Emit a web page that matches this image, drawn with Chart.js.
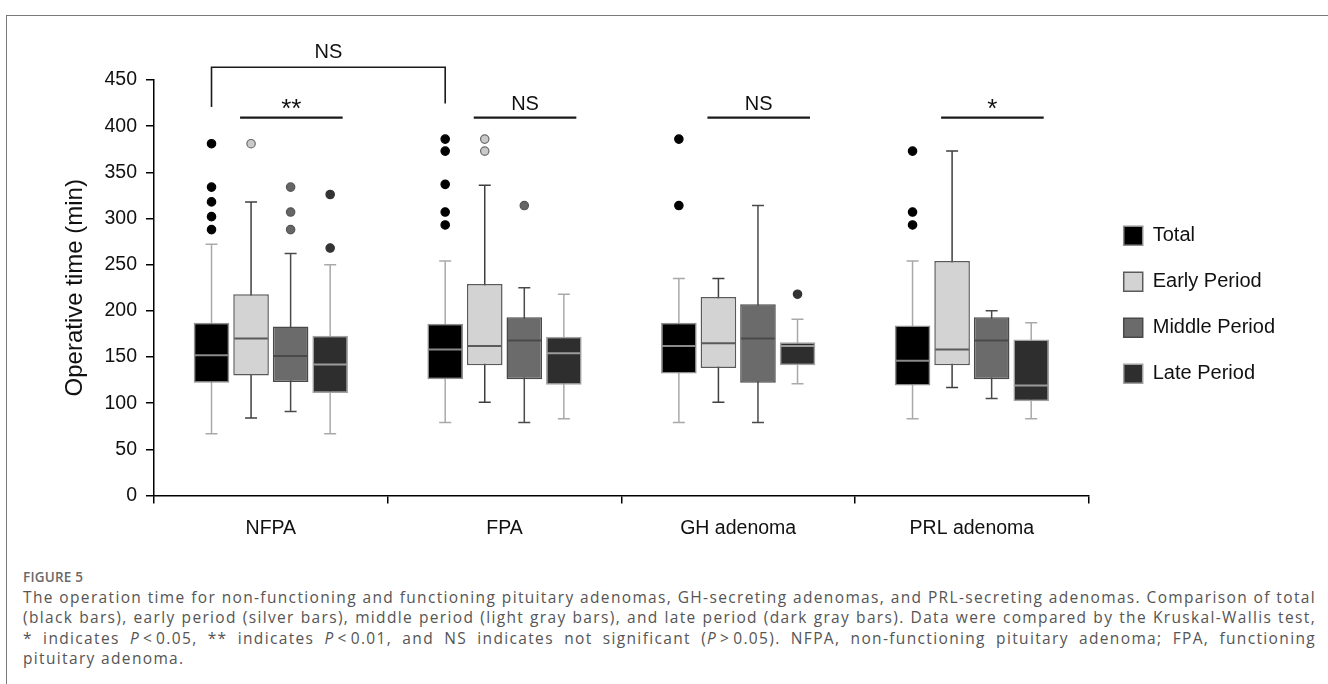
<!DOCTYPE html>
<html>
<head>
<meta charset="utf-8">
<script src="https://cdn.jsdelivr.net/npm/chart.js@4.4.1/dist/chart.umd.min.js"></script>
<style>
  html, body { margin: 0; padding: 0; background: #fff; }
  body { width: 1328px; height: 684px; position: relative; overflow: hidden; font-family: 'Open Sans', 'Noto Sans', sans-serif; }
  .marco { position: absolute; left: 6px; top: 15px; width: 1330px; height: 680px; border-top: 1.5px solid #7a7a7a; border-left: 1.5px solid #7a7a7a; }
  .lienzo { position: absolute; left: 0; top: 0; }
  .pie { position: absolute; left: 23px; top: 567px; width: 1293px; color: #555; }
  .pie__num { font-size: 13.5px; font-weight: 600; color: #6a6a6a; line-height: 20px; letter-spacing: 0.2px; }
  .pie__linea { font-size: 15.5px; line-height: 20.3px; white-space: nowrap; }
  .pie__linea--just { text-align: justify; text-align-last: justify; }
</style>
</head>
<body>
<div class="marco"></div>
<canvas class="lienzo" id="grafico" width="1328" height="550"></canvas>
<div class="pie">
  <div class="pie__num">FIGURE 5</div>
  <div class="pie__linea"><span>The operation time for non-functioning and functioning pituitary adenomas, GH-secreting adenomas, and PRL-secreting adenomas. Comparison of total</span></div>
  <div class="pie__linea"><span>(black bars), early period (silver bars), middle period (light gray bars), and late period (dark gray bars). Data were compared by the Kruskal-Wallis test,</span></div>
  <div class="pie__linea"><span>* indicates <i>P</i>&#8202;&lt;&#8202;0.05, ** indicates <i>P</i>&#8202;&lt;&#8202;0.01, and NS indicates not significant (<i>P</i>&#8202;&gt;&#8202;0.05). NFPA, non-functioning pituitary adenoma; FPA, functioning</span></div>
  <div class="pie__linea pie__linea--fin"><span>pituitary adenoma.</span></div>
</div>
<script>
// categorías y series
const grupos   = ['NFPA', 'FPA', 'GH adenoma', 'PRL adenoma'];
const periodos = ['Total', 'Early Period', 'Middle Period', 'Late Period'];
const yMax = 450;
const yPaso = 50;

// cada caja: [mín bigote, Q1, mediana, Q3, máx bigote], un valor por grupo
const cajaTotal  = [[67, 122, 152, 187, 272], [79, 126, 158, 186, 254], [79, 132, 162, 187, 235], [83, 119, 146, 184, 254]];
const cajaEarly  = [[84, 130, 170, 218, 318], [101, 141, 162, 229, 336], [101, 138, 165, 215, 235], [117, 141, 158, 254, 373]];
const cajaMiddle = [[91, 123, 151, 183, 262], [79, 126, 168, 193, 225], [79, 122, 170, 207, 314], [105, 126, 168, 193, 200]];
const cajaLate   = [[67, 111, 142, 173, 250], [83, 120, 154, 172, 218], [121, 141, 162, 166, 191], [83, 102, 119, 169, 187]];

// valores atípicos por grupo
const atipTotal  = [[381, 334, 318, 302, 288], [386, 373, 337, 307, 293], [386, 314], [373, 307, 293]];
const atipEarly  = [[381], [386, 373], [], []];
const atipMiddle = [[334, 307, 288], [314], [], []];
const atipLate   = [[326, 268], [], [218], []];

// significancia dentro de cada grupo (Early vs Middle vs Late) y entre NFPA y FPA (Total)
const signifGrupo = ['**', 'NS', 'NS', '*'];
const signifEntre = 'NS';

const cajas    = [cajaTotal, cajaEarly, cajaMiddle, cajaLate];
const atipicos = [atipTotal, atipEarly, atipMiddle, atipLate];

const estilos = [
  { fondo: '#000000', borde: '#8e8e8e', bigote: '#a9a9a9', mediana: '#8a8a8a', punto: '#000000', puntoBorde: '#000000' },
  { fondo: '#d3d3d3', borde: '#5a5a5a', bigote: '#3f3f3f', mediana: '#5a5a5a', punto: '#c9c9c9', puntoBorde: '#6a6a6a' },
  { fondo: '#6b6b6b', borde: '#494949', bigote: '#4a4a4a', mediana: '#4a4a4a', punto: '#666666', puntoBorde: '#555555' },
  { fondo: '#2e2e2e', borde: '#a2a2a2', bigote: '#a9a9a9', mediana: '#9c9c9c', punto: '#333333', puntoBorde: '#333333' },
];

// pie de figura: espaciado común de letras para que la línea más larga llene el ancho
(function ajustarPie() {
  const lineas = [...document.querySelectorAll('.pie__linea:not(.pie__linea--fin)')];
  const ancho = 1290;
  let esp = Infinity;
  lineas.forEach(l => {
    const s = l.querySelector('span');
    const w = s.getBoundingClientRect().width;
    esp = Math.min(esp, (ancho - w) / s.textContent.length);
  });
  esp = Math.max(0, esp);
  document.querySelectorAll('.pie__linea').forEach(l => { l.style.letterSpacing = esp + 'px'; });
  lineas.forEach(l => l.classList.add('pie__linea--just'));
})();

const FUENTE = "'Liberation Sans', Arial, sans-serif";
Chart.defaults.font.family = FUENTE;
Chart.defaults.color = '#111';

// bigotes, medianas, atípicos y marcas de significancia
const dibujoCajas = {
  id: 'dibujoCajas',
  afterLayout(chart) {
    // la leyenda queda separada del área del gráfico
    const l = chart.legend;
    l.left += 9; l.right += 9;
    l.top -= 4; l.bottom -= 4;
  },
  beforeDatasetsDraw(chart) {
    const { ctx, scales: { y } } = chart;
    cajas.forEach((caja, i) => {
      const meta = chart.getDatasetMeta(i);
      ctx.save();
      ctx.strokeStyle = estilos[i].bigote;
      ctx.lineWidth = 1.5;
      meta.data.forEach((barra, j) => {
        const yMin = y.getPixelForValue(caja[j][0]);
        const yTop = y.getPixelForValue(caja[j][4]);
        ctx.beginPath();
        ctx.moveTo(barra.x, yMin); ctx.lineTo(barra.x, yTop);
        ctx.moveTo(barra.x - 6, yMin); ctx.lineTo(barra.x + 6, yMin);
        ctx.moveTo(barra.x - 6, yTop); ctx.lineTo(barra.x + 6, yTop);
        ctx.stroke();
      });
      ctx.restore();
    });
  },
  afterDatasetsDraw(chart) {
    const { ctx, chartArea, scales: { y } } = chart;
    cajas.forEach((caja, i) => {
      const meta = chart.getDatasetMeta(i);
      const est = estilos[i];
      ctx.save();
      meta.data.forEach((barra, j) => {
        const yMed = y.getPixelForValue(caja[j][2]);
        const m = barra.width / 2 - 1;
        ctx.strokeStyle = est.mediana;
        ctx.lineWidth = 2;
        ctx.beginPath();
        ctx.moveTo(barra.x - m, yMed); ctx.lineTo(barra.x + m, yMed);
        ctx.stroke();

        atipicos[i][j].forEach(v => {
          ctx.beginPath();
          ctx.arc(barra.x, y.getPixelForValue(v), 4.2, 0, Math.PI * 2);
          ctx.fillStyle = est.punto;
          ctx.fill();
          ctx.lineWidth = 1.2;
          ctx.strokeStyle = est.puntoBorde;
          ctx.stroke();
        });
      });
      ctx.restore();
    });

    // marcas de significancia
    const top = chartArea.top;
    ctx.save();
    ctx.strokeStyle = '#1a1a1a';
    ctx.fillStyle = '#111';
    ctx.lineWidth = 2.2;
    ctx.textAlign = 'center';
    ctx.textBaseline = 'alphabetic';
    const early = chart.getDatasetMeta(1).data;
    const late  = chart.getDatasetMeta(3).data;
    signifGrupo.forEach((txt, j) => {
      const x0 = early[j].x - 11;
      const x1 = late[j].x + 12.5;
      const yl = top + 37.7;
      ctx.beginPath();
      ctx.moveTo(x0, yl); ctx.lineTo(x1, yl);
      ctx.stroke();
      if (txt === 'NS') {
        ctx.font = `20px ${FUENTE}`;
        ctx.fillText(txt, (x0 + x1) / 2, top + 30);
      } else {
        ctx.font = `26px ${FUENTE}`;
        ctx.fillText(txt, (x0 + x1) / 2, top + 36.5);
      }
    });

    const tot = chart.getDatasetMeta(0).data;
    const xa = tot[0].x, xb = tot[1].x;
    const yb = top - 12.7;
    ctx.lineWidth = 1.6;
    ctx.beginPath();
    ctx.moveTo(xa, top + 27); ctx.lineTo(xa, yb); ctx.lineTo(xb, yb); ctx.lineTo(xb, top + 23.5);
    ctx.stroke();
    ctx.font = `20px ${FUENTE}`;
    ctx.fillText(signifEntre, (xa + xb) / 2, top - 22);
    ctx.restore();
  },
};

new Chart(document.getElementById('grafico').getContext('2d'), {
  type: 'bar',
  data: {
    labels: grupos,
    datasets: periodos.map((p, i) => ({
      label: p,
      data: cajas[i].map(c => [c[1], c[3]]),
      backgroundColor: estilos[i].fondo,
      borderColor: estilos[i].borde,
      borderWidth: 1.5,
      borderSkipped: false,
      categoryPercentage: 0.677,
      barPercentage: 0.9,
    })),
  },
  options: {
    responsive: false,
    animation: false,
    devicePixelRatio: 1,
    layout: { padding: { left: 10, top: 80, right: 52, bottom: 12.5 } },
    scales: {
      x: {
        grid: { drawOnChartArea: false, offset: true, tickLength: 8, color: '#000', lineWidth: 1.5 },
        border: { color: '#000', width: 1.5 },
        ticks: { font: { size: 19.5 }, padding: 13, color: '#111' },
        afterFit: s => { s.height = 42; },
      },
      y: {
        min: 0,
        max: yMax,
        ticks: { stepSize: yPaso, font: { size: 19.5 }, padding: 9, color: '#111' },
        grid: { drawOnChartArea: false, tickLength: 8, color: '#000', lineWidth: 1.5 },
        border: { color: '#000', width: 1.5 },
        title: { display: true, text: 'Operative time (min)', font: { size: 24 }, color: '#111', padding: { top: 50.6 } },
        afterFit: s => { s.width = 144; },
      },
    },
    plugins: {
      legend: {
        position: 'right',
        labels: { boxWidth: 19, boxHeight: 19, padding: 26, font: { size: 20 }, color: '#111' },
      },
      tooltip: { enabled: false },
    },
  },
  plugins: [dibujoCajas],
});
</script>
</body>
</html>
